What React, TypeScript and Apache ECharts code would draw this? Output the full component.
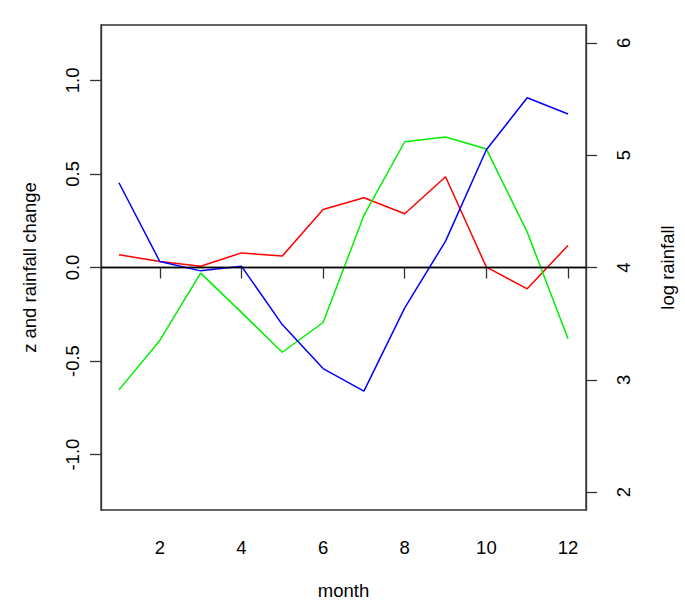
import React, { useEffect, useRef } from "react";
import * as echarts from "echarts";

const months = [1, 2, 3, 4, 5, 6, 7, 8, 9, 10, 11, 12];
const redValues = [0.068, 0.032, 0.007, 0.078, 0.061, 0.31, 0.373, 0.287, 0.485, 0.002, -0.114, 0.118];
const greenValues = [-0.654, -0.39, -0.03, -0.24, -0.453, -0.294, 0.278, 0.672, 0.697, 0.633, 0.189, -0.381];
const blueValues = [0.453, 0.032, -0.018, 0.007, -0.305, -0.54, -0.661, -0.216, 0.141, 0.629, 0.907, 0.82];
const xTicks = [2, 4, 6, 8, 10, 12];
const leftTicks = [-1, -0.5, 0, 0.5, 1];
const rightTicks = [2, 3, 4, 5, 6];

const FONT = "'Liberation Sans', Arial, Helvetica, sans-serif";
const AXIS_COLOR = "#333333";

export default function App() {
  const ref = useRef<HTMLDivElement>(null);
  useEffect(() => {
    if (!ref.current) return;
    const chart = echarts.init(ref.current, undefined, { renderer: "svg" });
    const pair = (vals: number[]) => months.map((m, i) => [m, vals[i]]);
    const lineSeries = (name: string, vals: number[], color: string) => ({
      name,
      type: "line",
      data: pair(vals),
      showSymbol: false,
      symbol: "none",
      lineStyle: { color, width: 1.5 },
      itemStyle: { color },
      yAxisIndex: 0,
    });
    const labelStyle = { fontFamily: FONT, fontSize: 18.5, color: "#000" };
    chart.setOption({
      animation: false,
      backgroundColor: "#ffffff",
      textStyle: { fontFamily: FONT },
      grid: {
        left: 101,
        right: 97,
        top: 25,
        bottom: 104,
        show: true,
        borderColor: AXIS_COLOR,
        borderWidth: 1.3,
        backgroundColor: "transparent",
      },
      xAxis: {
        type: "value",
        min: 0.56,
        max: 12.44,
        name: "month",
        nameLocation: "middle",
        nameGap: 71,
        nameTextStyle: labelStyle,
        axisLine: { show: true, lineStyle: { color: AXIS_COLOR, width: 1.3 } },
        axisTick: { show: true, length: 11, customValues: xTicks, lineStyle: { color: AXIS_COLOR, width: 1.3 } },
        axisLabel: { ...labelStyle, margin: 28, customValues: xTicks },
        splitLine: { show: false },
      },
      yAxis: [
        {
          type: "value",
          position: "left",
          min: -1.296,
          max: 1.296,
          name: "z and rainfall change",
          nameLocation: "middle",
          nameRotate: 90,
          nameGap: 62,
          nameTextStyle: labelStyle,
          axisLine: { show: true, lineStyle: { color: AXIS_COLOR, width: 1.3 } },
          axisTick: { show: true, length: 11, customValues: leftTicks, lineStyle: { color: AXIS_COLOR, width: 1.3 } },
          axisLabel: {
            ...labelStyle,
            rotate: 90,
            margin: 19,
            customValues: leftTicks,
            formatter: (v: number) => v.toFixed(1),
          },
          splitLine: { show: false },
        },
        {
          type: "value",
          position: "right",
          min: 1.84,
          max: 6.16,
          name: "log rainfall",
          nameLocation: "middle",
          nameRotate: 90,
          nameGap: 72,
          nameTextStyle: labelStyle,
          axisLine: { show: true, lineStyle: { color: AXIS_COLOR, width: 1.3 } },
          axisTick: { show: true, length: 11, customValues: rightTicks, lineStyle: { color: AXIS_COLOR, width: 1.3 } },
          axisLabel: {
            ...labelStyle,
            rotate: 90,
            margin: 28,
            customValues: rightTicks,
            formatter: (v: number) => String(v),
          },
          splitLine: { show: false },
        },
      ],
      series: [
        {
          ...lineSeries("rainfall change", redValues, "#ff0000"),
          markLine: {
            silent: true,
            symbol: ["none", "none"],
            label: { show: false },
            lineStyle: { color: "#000000", width: 1.3, type: "solid" },
            data: [{ yAxis: 0 }],
          },
        },
        lineSeries("z", greenValues, "#00ee00"),
        lineSeries("log rainfall", blueValues, "#0000ff"),
      ],
    });
    return () => chart.dispose();
  }, []);
  return (
    <div
      ref={ref}
      style={{ position: "fixed", left: 0, top: 0, width: 685, height: 614, background: "#fff" }}
    />
  );
}
